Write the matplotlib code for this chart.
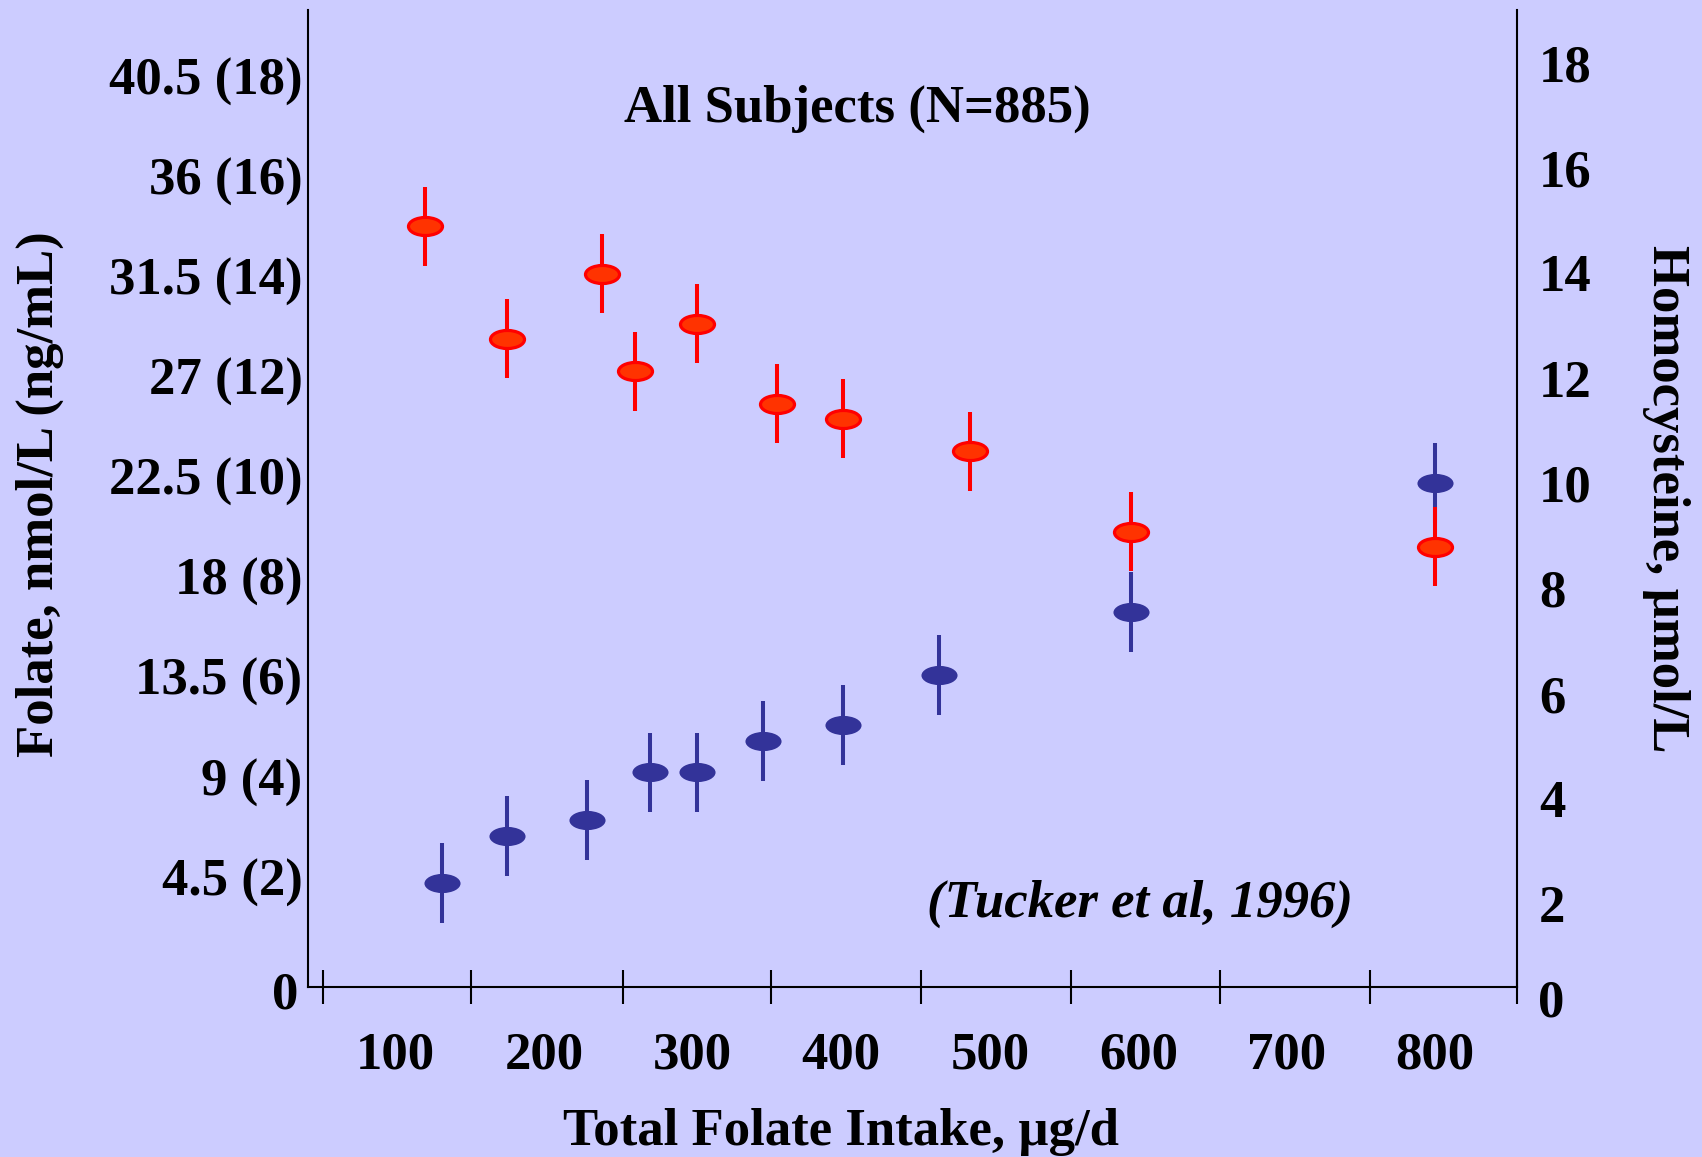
import numpy as np
import matplotlib
matplotlib.use('Agg')
import matplotlib.pyplot as plt
import matplotlib.transforms as mtransforms
from matplotlib.path import Path

# folate (red, ng/mL; nmol/L = 2.25 x ng/mL) and homocysteine (blue, umol/L)
folate_x = [120, 175, 239, 261, 303, 357, 401, 487, 595, 800]
folate_y = [15.0, 12.75, 14.05, 12.1, 13.05, 11.45, 11.15, 10.5, 8.9, 8.6]
folate_err = [0.79] * 10

hcy_x = [131, 175, 229, 271, 303, 347, 401, 466, 595, 800]
hcy_y = [2.4, 3.3, 3.6, 4.5, 4.5, 5.1, 5.4, 6.35, 7.55, 10.0]
hcy_err = [0.76] * 10

x_labels = [100, 200, 300, 400, 500, 600, 700, 800]
x_tick_marks = [51, 151, 253, 353, 454, 555, 655, 756, 855]
folate_ticks = [2, 4, 6, 8, 10, 12, 14, 16, 18]
folate_labels = ['4.5 (2)', '9 (4)', '13.5 (6)', '18 (8)', '22.5 (10)',
                 '27 (12)', '31.5 (14)', '36 (16)', '40.5 (18)']
hcy_ticks = [2, 4, 6, 8, 10, 12, 14, 16, 18]

bg = '#CCCCFF'
font = 'Liberation Serif'
fs = 38

plt.rcParams['font.family'] = font
plt.rcParams['font.weight'] = 'bold'

fig = plt.figure(figsize=(17.02, 11.57), dpi=100, facecolor=bg)
ax = fig.add_axes([0.181, 0.1469, 0.7103, 0.8445])
ax.set_facecolor(bg)
ax2 = ax.twinx()

ellipse = Path.unit_circle().transformed(mtransforms.Affine2D().scale(1, 0.53))

# homocysteine on ax (right side ticks)
ax.errorbar(hcy_x, hcy_y, yerr=hcy_err, fmt='none', ecolor='#333399',
            elinewidth=2.9, capsize=0, zorder=2)
ax.plot(hcy_x, hcy_y, linestyle='none', marker=ellipse, markersize=26,
        markerfacecolor='#333399', markeredgewidth=0, zorder=3)

# folate on ax2 (left side ticks), drawn on top
ax2.errorbar(folate_x, folate_y, yerr=folate_err, fmt='none', ecolor='#FF0000',
             elinewidth=2.9, capsize=0, zorder=2)
ax2.plot(folate_x, folate_y, linestyle='none', marker=ellipse, markersize=24.5,
         markerfacecolor='#FF3300', markeredgecolor='#FF0000',
         markeredgewidth=2.3, zorder=3)

ax.set_xlim(41, 855)
ax.set_ylim(0.42, 19.0)
ax2.set_ylim(-0.2, 19.32)

ax.set_xticks(x_tick_marks)
ax.set_xticklabels([])
ax.set_xticks(x_labels, minor=True)
ax.set_xticklabels([str(v) for v in x_labels], minor=True)
ax.tick_params(axis='x', which='major', direction='inout', length=25, width=1.5)
ax.tick_params(axis='x', which='minor', length=0, pad=32, labelsize=fs)

ax.yaxis.tick_right()
ax.set_yticks(hcy_ticks)
ax.set_yticklabels([str(v) for v in hcy_ticks])
ax.tick_params(axis='y', length=0, pad=16, labelsize=fs)

ax2.yaxis.tick_left()
ax2.set_yticks(folate_ticks)
ax2.set_yticklabels(folate_labels)
ax2.tick_params(axis='y', length=0, pad=4, labelsize=fs)

for s in ['left', 'right', 'bottom']:
    ax.spines[s].set_linewidth(1.5)
ax.spines['top'].set_visible(False)
for s in ax2.spines.values():
    s.set_visible(False)

# zero labels sit slightly below the axis line
ax2.text(-0.0083, -0.36, '0', transform=mtransforms.blended_transform_factory(ax2.transAxes, ax2.transData),
         ha='right', va='center', fontsize=fs, fontweight='bold', clip_on=False)
ax.text(1.0174, 0.1, '0', transform=mtransforms.blended_transform_factory(ax.transAxes, ax.transData),
        ha='left', va='center', fontsize=fs, fontweight='bold', clip_on=False)

fig.text(0.5035, 0.906, 'All Subjects (N=885)', ha='center', va='center', fontsize=fs)
fig.text(0.670, 0.219, '(Tucker et al, 1996)', ha='center', va='center', fontsize=fs, style='italic')
fig.text(0.494, 0.0215, 'Total Folate Intake, µg/d', ha='center', va='center', fontsize=fs)
fig.text(0.0235, 0.573, 'Folate, nmol/L (ng/mL)', ha='center', va='center', fontsize=fs, rotation=90)
fig.text(0.979, 0.569, 'Homocysteine, µmol/L', ha='center', va='center', fontsize=fs, rotation=270)

fig.savefig('out.png', dpi=100, facecolor=bg)
